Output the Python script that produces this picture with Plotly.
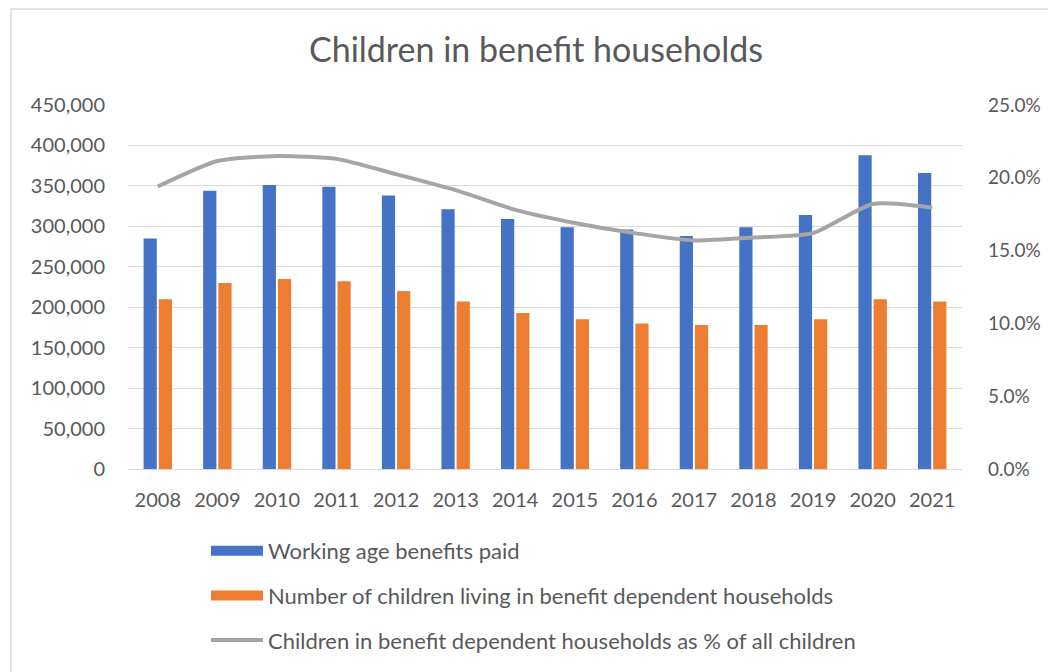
import plotly.graph_objects as go

years = ["2008", "2009", "2010", "2011", "2012", "2013", "2014",
         "2015", "2016", "2017", "2018", "2019", "2020", "2021"]
benefits_paid = [285000, 344000, 351000, 349000, 338000, 321000, 309000,
                 299000, 296000, 288000, 299000, 314000, 388000, 366000]
children_benefit = [210000, 230000, 235000, 232000, 220000, 207000, 193000,
                    185000, 180000, 178000, 178000, 185000, 210000, 207000]
children_pct = [0.194, 0.2115, 0.215, 0.213, 0.2025, 0.1915, 0.178,
                0.169, 0.162, 0.157, 0.159, 0.162, 0.182, 0.1795]

names = ["Working age benefits paid",
         "Number of children living in benefit dependent households",
         "Children in benefit dependent households as % of all children"]
BLUE, ORANGE, GREY = "#4472C4", "#ED7D31", "#A5A5A5"
FONT = "Lato"
TXT = "#595959"

fig = go.Figure()
fig.add_trace(go.Bar(x=years, y=benefits_paid, name=names[0],
                     marker=dict(color=BLUE, line=dict(width=0)),
                     legendgroup="a", showlegend=False))
fig.add_trace(go.Bar(x=years, y=children_benefit, name=names[1],
                     marker=dict(color=ORANGE, line=dict(width=0)),
                     legendgroup="b", showlegend=False))
fig.add_trace(go.Scatter(x=years, y=children_pct, yaxis="y2", mode="lines",
                         name=names[2],
                         line=dict(color=GREY, width=4, shape="spline", smoothing=0.6),
                         legendgroup="c", showlegend=False))
# legend entries (wide rectangle keys like the original)
for nm, col, grp, w in [(names[0], BLUE, "a", 10), (names[1], ORANGE, "b", 10),
                        (names[2], GREY, "c", 4)]:
    fig.add_trace(go.Scatter(x=[None], y=[None], mode="lines", name=nm,
                             line=dict(color=col, width=w), legendgroup=grp,
                             showlegend=True, hoverinfo="skip"))

fig.update_layout(
    width=1056, height=672,
    margin=dict(l=120, r=102, t=97, b=211, autoexpand=False),
    paper_bgcolor="white", plot_bgcolor="white",
    font=dict(family=FONT, color=TXT, size=20),
    title=dict(text="Children in benefit households", x=0.5, xanchor="center",
               xref="container", yref="container", y=0.9375, yanchor="middle",
               font=dict(family=FONT, size=34, color=TXT)),
    barmode="group", bargap=0.49, bargroupgap=0.13,
    showlegend=True,
    legend=dict(orientation="v", xref="container", yref="container",
                x=0.1875, xanchor="left", y=0.2232, yanchor="top",
                font=dict(family=FONT, size=22, color=TXT),
                tracegroupgap=13, itemwidth=52, bgcolor="rgba(0,0,0,0)"),
    xaxis=dict(type="category", showgrid=False, showline=True, linecolor="#D9D9D9",
               linewidth=1, ticks="", tickfont=dict(size=20, color=TXT),
               ticklabelstandoff=13),
    yaxis=dict(range=[0, 450000], dtick=50000, tickformat=",", showgrid=True,
               gridcolor="#D9D9D9", gridwidth=1, zeroline=False, showline=False,
               ticks="", tickfont=dict(size=20, color=TXT), ticklabelstandoff=22),
    yaxis2=dict(range=[0, 0.25], dtick=0.05, tickformat=".1%", overlaying="y",
                side="right", showgrid=False, zeroline=False, showline=False,
                ticks="", tickfont=dict(size=19, color=TXT), ticklabelstandoff=25),
    shapes=[dict(type="rect", xref="paper", yref="paper",
                 x0=-0.1403, x1=1.2, y0=-0.6, y1=1.2637,
                 line=dict(color="#D9D9D9", width=1.5), fillcolor="rgba(0,0,0,0)",
                 layer="below")],
)

fig.write_html("out.html")
